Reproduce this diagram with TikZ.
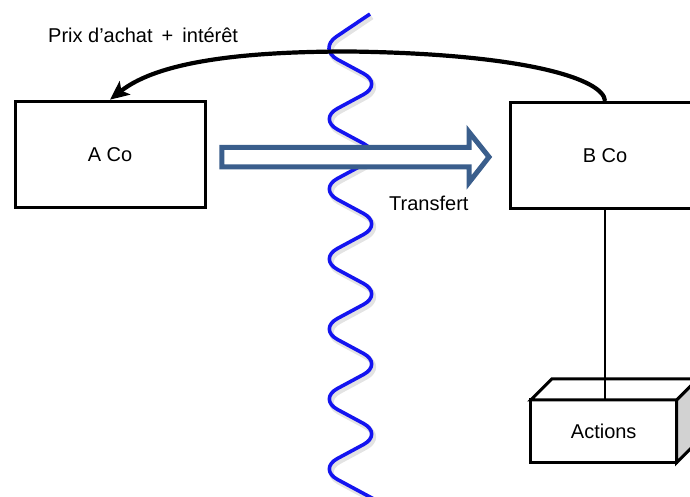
\documentclass[tikz,border=0pt]{standalone}
\usepackage{fontspec}
\setmainfont{Liberation Sans}
\usetikzlibrary{arrows.meta}
\definecolor{transferblue}{HTML}{3A5E8C}
\definecolor{wavecol}{HTML}{1414F0}
\definecolor{sidegrey}{HTML}{D2D2D2}

\begin{document}
\begin{tikzpicture}[x=1pt,y=-1pt,
  font=\fontsize{20}{24}\selectfont,
  boxline/.style={draw=black,line width=3pt},
  company/.style={boxline,fill=white,minimum width=190pt,minimum height=106pt,inner sep=0pt},
  crate/.style={boxline,fill=white,minimum width=146pt,minimum height=62.7pt,inner sep=0pt,outer sep=0pt},
  payment/.style={line width=4.2pt,-{Stealth[length=19pt,width=17pt,inset=4.5pt]}},
  transfer/.style={draw=transferblue,fill=white,line width=5pt,line join=miter},
  wave/.style={draw=wavecol,line width=3.6pt,rounded corners=22pt},
  waveshadow/.style={draw=black!18,line width=5pt,rounded corners=22pt,opacity=0.6},
  label/.style={inner sep=0pt}]
\useasboundingbox (0,0) rectangle (690,497);

% the boundary: a wavy line with a soft shadow
\draw[waveshadow,xshift=2pt,yshift=-3pt] (370,14)
  \foreach \k in {0,...,6} { -- (318,{49+70*\k}) -- (383,{84+70*\k}) };
\draw[wave] (370,14)
  \foreach \k in {0,...,6} { -- (318,{49+70*\k}) -- (383,{84+70*\k}) };

% the two companies
\node[company] (A) at (110,154.2) {A Co};
\node[company] (B) at (605,155.5) {B Co};

% shares held by B Co
\node[crate] (act) at (603.7,431.3) {Actions};
\draw[boxline,fill=white] (act.north west) -- ++(21,-21)
  -- ([xshift=21pt,yshift=21pt]act.north east) -- (act.north east) -- cycle;
\draw[boxline,fill=sidegrey] (act.north east) -- ++(21,-21) -- ++(0,62.7)
  -- (act.south east) -- cycle;
\draw[line width=2pt] (B.south) -- (B.south |- act.north);

% payment from B Co back to A Co
\draw[payment] (B.north) .. controls (604,80) and (530,54) .. (350,51.5)
  .. controls (250,51.5) and (160,60) .. (A.north);
\node[label,anchor=base west] (prix) at (48,43) {Prix d’achat \hspace{3.5pt}+\hspace{3.5pt} intérêt};

% transfer from A Co to B Co
\draw[transfer] (221.8,147.5) -- (469,147.5) -- (469,132) -- (489,157)
  -- (469,182.5) -- (469,167) -- (221.8,167) -- cycle;
\node[label,anchor=base west] (tr) at (389,210) {Transfert};
\end{tikzpicture}
\end{document}
